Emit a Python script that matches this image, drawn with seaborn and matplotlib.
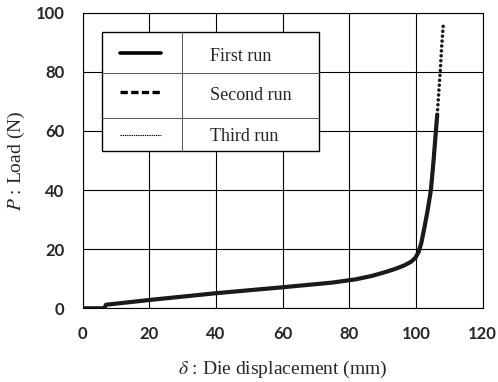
import matplotlib
matplotlib.use("Agg")
import matplotlib.pyplot as plt
import seaborn as sns
import pandas as pd
from matplotlib.patches import Rectangle

# Data
first_x = [0, 6.5, 7.0, 20, 40, 60, 75, 82, 87, 91, 94, 96.5, 98.5, 99.8, 100.8, 101.6, 102.5, 103.5, 104.5, 105.3, 106.0, 106.4]
first_y = [0, 0, 1.2, 2.8, 5.1, 7.1, 8.7, 9.8, 11.0, 12.3, 13.4, 14.5, 15.7, 17.0, 19.0, 22, 27, 33, 40, 50, 60, 65.5]
second_x = first_x
second_y = first_y
third_x = [106.4, 106.8, 107.3, 107.7, 108.2]
third_y = [65.5, 72, 80, 88, 95.7]

x_ticks = [0, 20, 40, 60, 80, 100, 120]
y_ticks = [0, 20, 40, 60, 80, 100]
legend_labels = ["First run", "Second run", "Third run"]

sns.set_theme(style="white")
plt.rcParams['font.family'] = ['Liberation Serif', 'DejaVu Serif']
plt.rcParams['mathtext.fontset'] = 'stix'

fig = plt.figure(figsize=(4.98, 3.82), dpi=100)
ax = fig.add_axes([0.166, 0.193, 0.803, 0.774])

df2 = pd.DataFrame({"x": second_x, "y": second_y})
df1 = pd.DataFrame({"x": first_x, "y": first_y})
df3 = pd.DataFrame({"x": third_x, "y": third_y})
sns.lineplot(data=df2, x="x", y="y", ax=ax, color="black", lw=2.0, ls="--", sort=False, zorder=3)
sns.lineplot(data=df1, x="x", y="y", ax=ax, color="#1a1a1a", lw=3.0, sort=False, zorder=4,
             solid_capstyle="round", solid_joinstyle="round")
sns.lineplot(data=df3, x="x", y="y", ax=ax, color="#1a1a1a", lw=2.6, ls=(0, (0.01, 1.35)), sort=False,
             zorder=4, dash_capstyle="round")

ax.set_xlim(0, 120)
ax.set_ylim(0, 100)
ax.set_xticks(x_ticks)
ax.set_yticks(y_ticks)
ax.grid(True, color="black", lw=0.8)
for s in ax.spines.values():
    s.set_color("black")
    s.set_linewidth(0.8)
ax.tick_params(length=0)
for lab in ax.get_xticklabels() + ax.get_yticklabels():
    lab.set_fontfamily("Lato")
    lab.set_fontweight("bold")
    lab.set_fontsize(12)
ax.tick_params(axis="x", pad=13)
ax.tick_params(axis="y", pad=13)

ax.set_xlabel(r"$\delta$ : Die displacement (mm)", fontsize=14, labelpad=12)
ax.set_ylabel(r"$P$ : Load (N)", fontsize=14, labelpad=6)

# Table-style legend
bx0, bx1, by0, by1 = 5.7, 70.9, 53.1, 93.4
ax.add_patch(Rectangle((bx0, by0), bx1 - bx0, by1 - by0, facecolor="white",
                       edgecolor="black", lw=1.0, zorder=5))
ax.plot([29.9, 29.9], [by0, by1], color="#555555", lw=0.7, zorder=6)
for yy in [79.7, 64.2]:
    ax.plot([bx0, bx1], [yy, yy], color="#555555", lw=0.7, zorder=6)
ax.plot([11.2, 23.5], [86.5, 86.5], color="black", lw=2.6, zorder=6)
ax.plot([11.2, 23.5], [73.2, 73.2], color="black", lw=2.4, ls=(0, (2.2, 1.0)), zorder=6)
ax.plot([11.2, 23.5], [58.5, 58.5], color="black", lw=0.8, ls=(0, (1.2, 0.8)), zorder=6)
for lab, yy in zip(legend_labels, [85, 72.1, 58.2]):
    ax.text(38.2, yy, lab, fontsize=13, va="center", ha="left", zorder=6)

fig.savefig("out.png", dpi=100)
